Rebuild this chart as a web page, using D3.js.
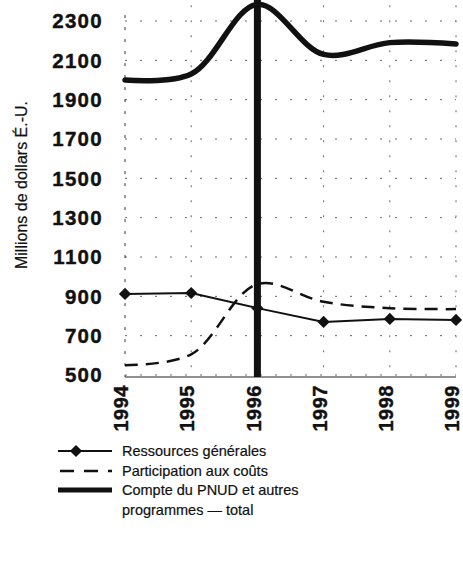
<!DOCTYPE html>
<html><head><meta charset="utf-8">
<script src="https://cdn.jsdelivr.net/npm/d3@7"></script>
<style>body{margin:0;background:#fff}svg{display:block}</style>
</head><body>
<svg id="c" width="463" height="561"></svg>
<script>
const years = [1994, 1995, 1996, 1997, 1998, 1999];
const ressourcesGenerales = [912, 917, 840, 770, 785, 780];
const participationCouts = [550, 605, 962, 872, 840, 835];
const compteTotal = [2000, 2030, 2385, 2130, 2190, 2183];
const yTicks = [500, 700, 900, 1100, 1300, 1500, 1700, 1900, 2100, 2300];
const yLabel = "Millions de dollars É.-U.";
const legendLabels = ["Ressources générales", "Participation aux coûts", "Compte du PNUD et autres", "programmes — total"];
const highlightYear = 1996;

const svg = d3.select("#c");
const x = d3.scaleLinear().domain([1994, 1999]).range([125, 456]);
const y = d3.scaleLinear().domain([500, 2300]).range([375, 21]);
const font = "Arial, 'Liberation Sans', Helvetica, sans-serif";

// grid
const g = svg.append("g");
g.selectAll("line.h").data(yTicks).join("line")
  .attr("x1", x(1994)).attr("x2", x(1999))
  .attr("y1", d => y(d)).attr("y2", d => y(d))
  .attr("stroke", "#666").attr("stroke-width", 1).attr("stroke-dasharray", "2,13");
g.selectAll("line.v").data(years.slice(1)).join("line")
  .attr("x1", d => x(d)).attr("x2", d => x(d))
  .attr("y1", y(2380)).attr("y2", y(500))
  .attr("stroke", "#666").attr("stroke-width", 1).attr("stroke-dasharray", "2,13");
// left axis dotted
g.append("line").attr("x1", x(1994)).attr("x2", x(1994)).attr("y1", y(2330)).attr("y2", y(500) + 2)
  .attr("stroke", "#333").attr("stroke-width", 1).attr("stroke-dasharray", "3,9");
// bottom axis
g.append("line").attr("x1", x(1994)).attr("x2", x(1999)).attr("y1", y(500) + 2).attr("y2", y(500) + 2)
  .attr("stroke", "#222").attr("stroke-width", 1.2);

// y tick labels
svg.append("g").selectAll("text").data(yTicks).join("text")
  .attr("x", 103).attr("y", d => y(d)).attr("dy", "0.36em")
  .attr("text-anchor", "end").attr("font-family", font).attr("font-weight", "bold")
  .attr("font-size", 20.5).attr("letter-spacing", 1.3).attr("fill", "#111")
  .attr("stroke", "#111").attr("stroke-width", 0.4)
  .text(d => d);

// x tick labels
svg.append("g").selectAll("text").data(years).join("text")
  .attr("transform", d => `translate(${x(d) - 4},385) rotate(-90)`)
  .attr("dy", "0.36em").attr("text-anchor", "end")
  .attr("font-family", font).attr("font-weight", "bold")
  .attr("font-size", 20).attr("letter-spacing", 0.5).attr("fill", "#111")
  .attr("stroke", "#111").attr("stroke-width", 0.4)
  .text(d => d);

// y axis title
svg.append("text").attr("transform", "translate(21,185) rotate(-90)")
  .attr("dy", "0.36em").attr("text-anchor", "middle")
  .attr("font-family", font).attr("font-size", 16).attr("fill", "#111")
  .attr("stroke", "#111").attr("stroke-width", 0.2)
  .text(yLabel);

// highlight vertical line
svg.append("line").attr("x1", x(highlightYear)).attr("x2", x(highlightYear))
  .attr("y1", 0).attr("y2", y(500) + 2)
  .attr("stroke", "#111").attr("stroke-width", 7);

const lineSmooth = d3.line().x((d, i) => x(years[i])).y(d => y(d)).curve(d3.curveCatmullRom.alpha(0.5));
const lineStraight = d3.line().x((d, i) => x(years[i])).y(d => y(d));

svg.append("path").attr("d", lineSmooth(compteTotal)).attr("fill", "none")
  .attr("stroke", "#111").attr("stroke-width", 5.5).attr("stroke-linecap", "round");
svg.append("path").attr("d", lineSmooth(participationCouts)).attr("fill", "none")
  .attr("stroke", "#111").attr("stroke-width", 2.5).attr("stroke-dasharray", "13,8");
svg.append("path").attr("d", lineStraight(ressourcesGenerales)).attr("fill", "none")
  .attr("stroke", "#111").attr("stroke-width", 2);
const diamond = d3.symbol().type(d3.symbolDiamond2).size(95);
svg.append("g").selectAll("path").data(ressourcesGenerales).join("path")
  .attr("transform", (d, i) => `translate(${x(years[i])},${y(d)})`)
  .attr("d", diamond).attr("fill", "#111");

// legend
const lg = svg.append("g");
const ly = [451, 471, 490];
lg.append("line").attr("x1", 58).attr("x2", 112).attr("y1", ly[0]).attr("y2", ly[0]).attr("stroke", "#111").attr("stroke-width", 2);
lg.append("path").attr("transform", `translate(76,${ly[0]})`).attr("d", diamond).attr("fill", "#111");
lg.append("line").attr("x1", 60).attr("x2", 112).attr("y1", ly[1]).attr("y2", ly[1]).attr("stroke", "#111").attr("stroke-width", 2.5).attr("stroke-dasharray", "14,10");
lg.append("line").attr("x1", 58).attr("x2", 112).attr("y1", ly[2]).attr("y2", ly[2]).attr("stroke", "#111").attr("stroke-width", 5);
const ty = [451, 471, 490, 510];
lg.selectAll("text").data(legendLabels).join("text")
  .attr("x", 122).attr("y", (d, i) => ty[i]).attr("dy", "0.36em")
  .attr("font-family", font).attr("font-size", 14.5).attr("fill", "#111")
  .attr("stroke", "#111").attr("stroke-width", 0.2)
  .text(d => d);
</script>
</body></html>
